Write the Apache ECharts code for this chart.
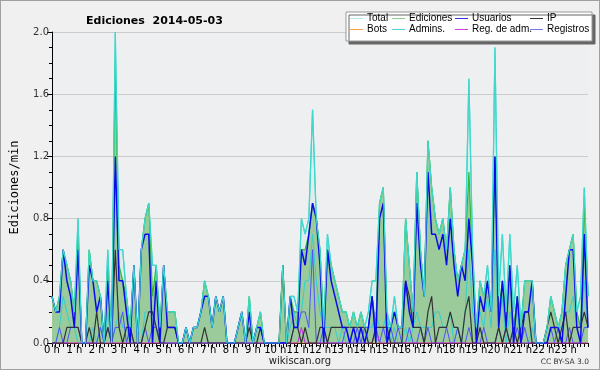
<!DOCTYPE html>
<html><head><meta charset="utf-8">
<script src="https://cdn.jsdelivr.net/npm/echarts@6/dist/echarts.min.js"></script>
<style>
html,body{margin:0;padding:0;background:#f0f0f0;}
#c{width:600px;height:370px;box-sizing:border-box;border:1px solid #a0a0a0;}
</style></head>
<body><div id="c"></div>
<script>
// 10-minute bins, 0h .. 24h (145 points), values in edits/min
const hourLabels = ['0 h','1 h','2 h','3 h','4 h','5 h','6 h','7 h','8 h','9 h','10 h','11 h','12 h','13 h','14 h','15 h','16 h','17 h','18 h','19 h','20 h','21 h','22 h','23 h',''];
const yTicks = ['0.0','0.4','0.8','1.2','1.6','2.0'];
const total = [0.3,0.2,0.3,0.6,0.5,0.4, 0.2,0.8,0,0,0.6,0.4, 0.4,0.3,0,0.6,0,2.0, 0.6,0.6,0.3,0.1,0.5,0, 0.6,0.8,0.9,0.5,0.5,0.1,
 0.5,0.2,0.2,0.2,0,0, 0.1,0,0.1,0.1,0.2,0.4, 0.3,0.1,0.3,0.2,0.3,0, 0,0,0.1,0.2,0,0.3, 0,0.1,0.2,0,0,0,
 0,0,0.5,0,0.3,0.3, 0.2,0.8,0.7,0.8,1.5,0.8, 0.6,0.1,0.7,0.5,0.4,0.3, 0.2,0.2,0.1,0.2,0.1,0.2, 0.1,0.2,0.4,0.4,0.9,1.0,
 0.2,0.1,0.3,0.1,0.1,0.8, 0.5,0.2,1.1,0.6,0.3,1.3, 1.0,0.8,0.7,0.8,0.6,1.0, 0.6,0.4,0.5,0.6,1.7,0.6, 0.1,0.4,0.3,0.5,0.2,1.9,
 0.3,0.7,0.2,0.7,0.2,0.5, 0.1,0.4,0.4,0.4,0,0, 0,0.1,0.3,0.2,0.1,0.2, 0.5,0.6,0.7,0.2,0.3,1.0, 0.3];
const ediciones = [0.3,0.2,0.3,0.6,0.5,0.4, 0.2,0.7,0,0,0.6,0.4, 0.4,0.3,0,0.5,0,1.8, 0.5,0.4,0.3,0.1,0.5,0, 0.6,0.8,0.9,0.3,0.5,0.1,
 0.5,0.2,0.2,0.2,0,0, 0.1,0,0.1,0.1,0.2,0.4, 0.3,0.1,0.3,0.2,0.3,0, 0,0,0.1,0.2,0,0.3, 0,0.1,0.2,0,0,0,
 0,0,0.5,0,0.3,0.2, 0.2,0.6,0.6,0.7,0.9,0.8, 0.6,0.1,0.6,0.5,0.4,0.3, 0.2,0.2,0.1,0.2,0.1,0.2, 0.1,0.1,0.3,0.1,0.9,1.0,
 0.1,0.1,0.2,0.1,0.1,0.8, 0.5,0.2,1.1,0.6,0.3,1.3, 1.0,0.8,0.7,0.8,0.6,1.0, 0.6,0.4,0.5,0.6,1.1,0.5, 0.1,0.4,0.3,0.4,0.2,1.2,
 0.2,0.4,0.2,0.5,0.1,0.3, 0.1,0.4,0.4,0.4,0,0, 0,0.1,0.3,0.2,0.1,0.2, 0.5,0.6,0.7,0.2,0.1,0.9, 0.3];
const usuarios = [0.3,0.2,0.2,0.6,0.4,0.3, 0.1,0.6,0,0,0.5,0.4, 0.2,0.3,0,0.4,0,1.2, 0.4,0.4,0.2,0,0.5,0, 0.6,0.7,0.7,0,0.4,0,
 0.5,0.1,0.1,0.1,0,0, 0.1,0,0.1,0.1,0.2,0.3, 0.3,0.1,0.3,0.2,0.3,0, 0,0,0.1,0.2,0,0.2, 0,0.1,0.1,0,0,0,
 0,0,0,0,0.3,0.1, 0.1,0.6,0.5,0.7,0.9,0.8, 0.5,0,0.6,0.4,0.3,0.2, 0.1,0.1,0,0.1,0,0.1, 0,0.1,0.3,0,0.8,0.9,
 0,0.1,0.2,0.1,0.1,0.4, 0.2,0.1,0.9,0.5,0.3,1.1, 0.7,0.7,0.6,0.7,0.5,0.8, 0.5,0.3,0.5,0.4,0.8,0.5, 0,0.3,0.2,0.4,0.2,1.2,
 0.1,0.4,0.1,0.5,0,0.3, 0,0.2,0.2,0.4,0,0, 0,0,0.1,0.1,0.1,0, 0.3,0.6,0.6,0.1,0,0.7, 0.1];
const ip = [0,0,0,0,0.1,0.1, 0.1,0.1,0,0,0.1,0, 0.2,0,0,0.1,0,0.6, 0.1,0,0.1,0.1,0,0, 0,0.1,0.2,0.2,0.1,0,
 0,0.1,0.1,0.1,0,0, 0,0,0,0,0,0.1, 0,0,0,0,0,0, 0,0,0,0,0,0.1, 0,0,0.1,0,0,0,
 0,0,0.5,0,0,0.1, 0.1,0,0.1,0,0,0, 0.1,0.1,0,0.1,0.1,0.1, 0.1,0.1,0.1,0.1,0.1,0.1, 0.1,0,0,0.1,0.1,0.1,
 0.1,0,0,0,0,0.4, 0.3,0.1,0.1,0.1,0,0.2, 0.3,0,0.1,0.1,0.1,0.2, 0.1,0.1,0,0.2,0.3,0, 0,0.1,0,0,0,0,
 0.1,0,0.1,0,0.1,0, 0.1,0.2,0.2,0,0,0, 0,0.1,0.2,0.1,0,0.1, 0.2,0,0.1,0.1,0.1,0.2, 0.1];
const admins = [0,0,0.1,0.3,0.2,0.1, 0.1,0,0,0,0,0.1, 0,0.1,0,0.2,0,0.1, 0.2,0.1,0.1,0,0,0, 0,0.2,0.2,0.2,0.1,0,
 0,0,0,0,0,0, 0,0,0,0,0,0, 0,0,0,0,0,0, 0,0,0,0,0,0, 0,0,0.1,0,0,0,
 0,0,0,0,0.1,0.2, 0.1,0.2,0.4,0.4,0.7,0.4, 0.2,0.1,0.1,0.1,0.1,0, 0.1,0,0,0,0,0, 0,0.1,0.1,0.2,0.1,0.1,
 0.2,0,0.1,0,0,0.1, 0,0.1,0.2,0.1,0.1,0.1, 0.1,0.2,0.2,0.1,0.1,0.2, 0,0.1,0,0.2,0.6,0.2, 0.1,0.2,0.1,0.3,0.1,0.6,
 0.1,0.3,0,0.2,0.1,0.2, 0,0,0,0.1,0,0, 0,0,0.1,0.1,0.1,0.1, 0.2,0.2,0.3,0.1,0.1,0.4, 0.1];
const registros = [0,0,0.1,0,0,0.1, 0.1,0.1,0,0,0,0, 0,0.1,0,0.1,0,0.1, 0.1,0.2,0,0.1,0,0, 0,0.1,0,0.1,0.1,0,
 0,0,0,0,0,0, 0,0,0,0,0,0, 0,0,0,0,0,0, 0,0,0,0,0,0, 0,0,0,0,0,0,
 0,0,0,0,0,0.1, 0.1,0.2,0.2,0.1,0.6,0, 0,0.1,0,0,0,0, 0,0.1,0,0,0.1,0, 0.1,0.1,0.3,0.1,0,0.1,
 0,0.1,0,0.1,0,0, 0.1,0,0,0.1,0,0.1, 0,0,0,0,0.1,0, 0,0.1,0,0,0.1,0, 0,0,0.1,0,0,0,
 0.1,0,0.1,0,0,0.1, 0,0.1,0,0,0,0, 0,0,0.1,0,0.1,0, 0,0.1,0,0,0,0.1, 0.1];
const regAdm = total.map(()=>0); regAdm[67]=0.1; regAdm[87]=0.1;
const bots = total.map(()=>0);

const pts = a => a.map((v,i)=>[i,v]);
const chart = echarts.init(document.getElementById('c'));
const FONT = 'DejaVu Sans';
const LFONT = 'Liberation Sans';
function legendCol(left, names, colors){
  return {left:left, top:12, orient:'vertical', itemGap:0, itemWidth:13, itemHeight:1, icon:'rect',
    selectedMode:false, padding:0,
    textStyle:{fontFamily:LFONT, fontSize:10, color:'#000', lineHeight:11, padding:[0,0,0,-1]},
    data:names.map((n,k)=>({name:n, itemStyle:{color:colors[k]}}))};
}
const line = (name, data, color, w, z) => ({name, type:'line', data:pts(data), symbol:'none', animation:false,
  lineStyle:{color, width:w}, itemStyle:{color}, z});
chart.setOption({
  animation:false,
  backgroundColor:'#f0f0f0',
  title:{text:'Ediciones  2014-05-03', left:80, top:10, textStyle:{fontFamily:FONT, fontSize:11, fontWeight:'bold', color:'#000'}},
  graphic:[
    {type:'rect', shape:{x:345, y:11, width:246, height:29}, style:{fill:'#fff', stroke:'#999', lineWidth:1, shadowColor:'#666', shadowOffsetX:3, shadowOffsetY:3, shadowBlur:0}, z:2},
    {type:'text', left:'center', top:355, style:{text:'wikiscan.org', fontFamily:FONT, fontSize:10, fill:'#222'}},
    {type:'text', right:10, top:357, style:{text:'CC BY-SA 3.0', fontFamily:FONT, fontSize:7.5, fill:'#333'}}
  ],
  legend:[
    legendCol(349, ['Total','Bots'], ['#aee8e6','#ffa040']),
    legendCol(391, ['Ediciones','Admins.'], ['#8fd08f','#55d0dc']),
    legendCol(454, ['Usuarios','Reg. de adm.'], ['#3030e8','#d040e0']),
    legendCol(529, ['IP','Registros'], ['#333333','#7878f0'])
  ],
  grid:{left:47, right:11, top:31, bottom:26, show:true, backgroundColor:'#eeeff1', borderWidth:0},
  xAxis:{type:'value', min:0, max:144, interval:6,
    axisLine:{lineStyle:{color:'#000', width:1}}, axisTick:{length:4, lineStyle:{color:'#000'}},
    minorTick:{show:true, splitNumber:6, length:4, lineStyle:{color:'#000'}},
    splitLine:{show:false},
    axisLabel:{margin:2, fontFamily:FONT, fontSize:10, color:'#000', formatter:v=>hourLabels[v/6]}},
  yAxis:{type:'value', min:0, max:2, interval:0.4,
    name:'Ediciones/min', nameLocation:'middle', nameGap:31, nameRotate:90,
    nameTextStyle:{fontFamily:'DejaVu Sans Mono', fontSize:12, color:'#000'},
    axisLine:{show:true, lineStyle:{color:'#000', width:1}}, axisTick:{show:true, length:5, lineStyle:{color:'#000'}},
    minorTick:{show:true, splitNumber:4, length:3, lineStyle:{color:'#000'}},
    splitLine:{show:true, lineStyle:{color:'#cccccc', width:1}},
    axisLabel:{margin:3, fontFamily:FONT, fontSize:10, color:'#333', formatter:v=>yTicks[Math.round(v/0.4)]}},
  series:[
    Object.assign(line('Total', total, '#40d8cc', 1.2, 1), {areaStyle:{color:'rgba(120,220,210,0.18)'}}),
    Object.assign(line('Ediciones', ediciones, '#33b833', 1.2, 2), {areaStyle:{color:'#9bcb9b', opacity:1}}),
    line('Bots', bots, '#ffa040', 1, 3),
    line('Admins.', admins, '#30d0d0', 1, 3),
    line('Registros', registros, '#5050ff', 1, 3),
    line('Reg. de adm.', regAdm, '#c030e0', 1, 3),
    line('IP', ip, '#333333', 1.2, 4),
    line('Usuarios', usuarios, '#0a0aee', 1.5, 5),
    line('Total', total, '#40d8cc', 1.2, 6)
  ]
});
</script></body></html>
